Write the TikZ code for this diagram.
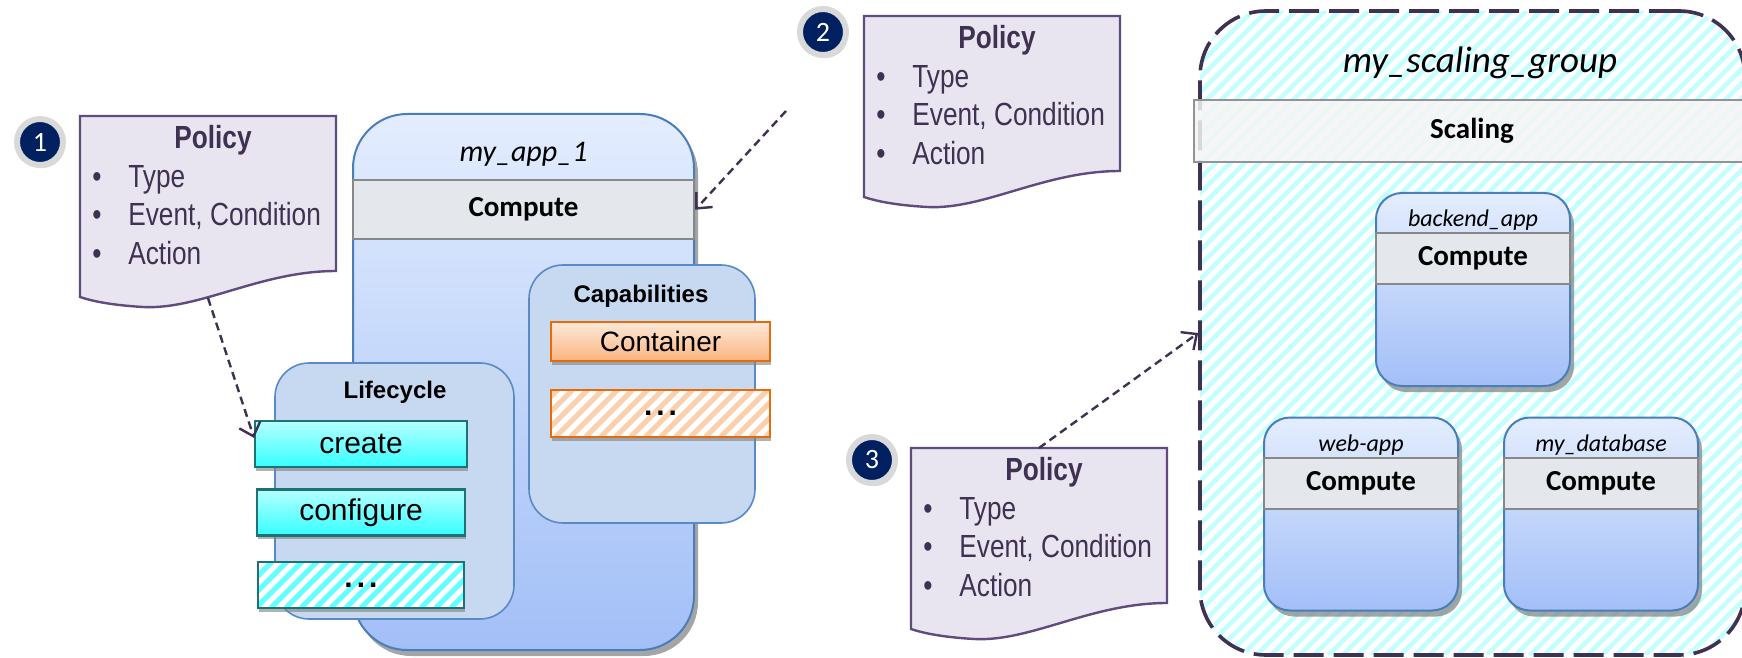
\documentclass[tikz,border=0pt]{standalone}
\usepackage{fontspec}
\setmainfont{Liberation Sans}
\newfontfamily\calibri{Carlito}
\newfontfamily\narrow[FakeStretch=0.82]{Liberation Sans}
\usepackage{tikz}
\usetikzlibrary{positioning,shadows,arrows.meta}

\definecolor{polfill}{HTML}{E9E5F0}
\definecolor{poldraw}{HTML}{5F4B7D}
\definecolor{poltext}{HTML}{3F3151}
\definecolor{navy}{HTML}{002060}
\definecolor{apptop}{HTML}{E3EDFE}
\definecolor{appbot}{HTML}{A2BFF7}
\definecolor{appdraw}{HTML}{4A7EBB}
\definecolor{bandfill}{HTML}{E4E8EC}
\definecolor{banddraw}{HTML}{888888}
\definecolor{subfill}{HTML}{C6D9F1}
\definecolor{subdraw}{HTML}{5A8AC6}
\definecolor{cyantop}{HTML}{B6FFFF}
\definecolor{cyanbot}{HTML}{36FFFF}
\definecolor{cyandraw}{HTML}{1D7373}
\definecolor{cyanstripe}{HTML}{66FFFF}
\definecolor{ortop}{HTML}{FDE9D9}
\definecolor{orbot}{HTML}{FAB47F}
\definecolor{ordraw}{HTML}{E46C0A}
\definecolor{orstripe}{HTML}{FBD0AE}
\definecolor{grpstripe}{HTML}{C4FEFE}
\definecolor{grpdraw}{HTML}{3F3151}

\newcommand{\pitem}{\makebox[18pt][l]{\textbullet}}
\newcommand{\policydoc}[3]{%
  \begin{scope}[shift={(#2,#3)}]
    \draw[policy] (0,0) -- (256,0) -- (256,155)
      .. controls (180,155) and (120,194) .. (63,191)
      .. controls (30,189) and (12,185) .. (0,181) -- cycle;
    \node[poltitle] (#1t) at (133,24) {Policy};
    \node[pollist] (#1l) at (12,99) {\pitem Type\\ \pitem Event, Condition\\ \pitem Action};
    \coordinate (#1top) at (128,0);
    \coordinate (#1bot) at (128,182);
  \end{scope}}

\begin{document}
\begin{tikzpicture}[x=0.5pt, y=-0.5pt, node distance=10pt,
hatch/.style n args={3}{path picture={
  \foreach \k in {-90,...,40}
    \draw[#1, solid, line width=#3] ([xshift=\k*#2]path picture bounding box.south) -- ++(450pt,450pt);}},
policy/.style={draw=poldraw, fill=polfill, line width=1.2pt},
poltitle/.style={font=\narrow\bfseries\fontsize{16}{19}\selectfont, text=poltext},
pollist/.style={anchor=west, align=left, inner sep=0pt, text=poltext,
  font=\narrow\fontsize{16}{19.25}\selectfont},
badge/.style={circle, fill=navy, draw=gray!30, line width=3pt, minimum size=23pt,
  inner sep=0pt, text=white, font=\calibri\fontsize{14}{14}\selectfont,
  drop shadow={shadow xshift=1pt, shadow yshift=-1.5pt, opacity=.35}},
app/.style={rectangle, rounded corners=27pt, draw=appdraw, line width=1pt,
  top color=apptop, bottom color=appbot,
  drop shadow={shadow xshift=2pt, shadow yshift=-3pt, fill=gray, opacity=.7}},
sapp/.style={app, rounded corners=13pt, minimum width=97pt, minimum height=96.5pt},
band/.style={draw=banddraw, fill=bandfill, line width=1.2pt, inner sep=0pt,
  font=\calibri\bfseries\fontsize{14.5}{17}\selectfont},
sband/.style={band, minimum width=97pt, minimum height=25.5pt},
applbl/.style={anchor=base, font=\calibri\itshape\fontsize{15}{18}\selectfont},
slbl/.style={anchor=base, font=\calibri\itshape\fontsize{12}{14}\selectfont},
sub/.style={rounded corners=17pt, draw=subdraw, fill=subfill, line width=.8pt},
sublbl/.style={anchor=base, font=\bfseries\fontsize{12}{14}\selectfont},
cyanbox/.style={draw=cyandraw, line width=1.2pt, top color=cyantop, bottom color=cyanbot,
  minimum height=23pt, font=\fontsize{15}{18}\selectfont,
  drop shadow={shadow xshift=.5pt, shadow yshift=-2pt, fill=gray, opacity=.6}},
cyandots/.style={draw=cyandraw, line width=1.2pt, fill=white, hatch={cyanstripe}{7.5pt}{2.6pt},
  minimum height=23pt, font=\bfseries\fontsize{15}{18}\selectfont,
  drop shadow={shadow xshift=.5pt, shadow yshift=-2pt, fill=gray, opacity=.6}},
orbox/.style={draw=ordraw, line width=1.2pt, top color=ortop, bottom color=orbot,
  minimum width=109.5pt, minimum height=19.5pt, font=\fontsize{14}{17}\selectfont,
  drop shadow={shadow xshift=.5pt, shadow yshift=-2pt, fill=gray, opacity=.6}},
ordots/.style={draw=ordraw, line width=1.2pt, fill=white, hatch={orstripe}{7.5pt}{2.6pt},
  minimum width=109.5pt, minimum height=23.5pt, font=\bfseries\fontsize{15}{18}\selectfont,
  drop shadow={shadow xshift=.5pt, shadow yshift=-2pt, fill=gray, opacity=.6}},
grp/.style={rounded corners=33pt, draw=grpdraw, line width=1.8pt,
  dash pattern=on 15pt off 5pt, fill=white, hatch={grpstripe}{7.2pt}{2.3pt}},
grplbl/.style={anchor=base, font=\calibri\itshape\fontsize{18.5}{22}\selectfont},
scaleband/.style={draw=gray!85, fill=gray!8, fill opacity=.85, text opacity=1,
  line width=1.2pt, font=\calibri\bfseries\fontsize{14.5}{17}\selectfont},
polarrow/.style={draw=grpdraw, line width=1.2pt, dash pattern=on 4pt off 2.5pt,
  -{Straight Barb[length=6pt,width=11pt]}}
]
\path[use as bounding box, fill=white] (0,0) rectangle (1742,658);

% scaling group
\node[grp, minimum width=272.5pt, minimum height=322pt] (grp) at (1472.5,333) {};
\node[grplbl] (grpname) at (1480,73) {my\_scaling\_group};
\node[scaleband, minimum width=278pt, minimum height=31pt] (scal) at (1472,131) {Scaling};
\node[sapp] (bk) at (1473,289.5) {};
\node[sband, below=20pt of bk.north] (bkc) {Compute};
\node[slbl] (bkn) at (1473,227) {backend\_app};
\node[sapp] (web) at (1361,514) {};
\node[sband, below=20pt of web.north] (webc) {Compute};
\node[slbl] (webn) at (1361,451) {web-app};
\node[sapp] (db) at (1601,514) {};
\node[sband, below=20pt of db.north] (dbc) {Compute};
\node[slbl] (dbn) at (1601,451) {my\_database};

% my_app_1
\node[app, minimum width=170.5pt, minimum height=268pt] (app) at (523.5,382) {};
\node[band, minimum width=170.5pt, minimum height=29.5pt, below=33pt of app.north] (appc) {Compute};
\node[applbl] (appn) at (523.5,162) {my\_app\_1};

\node[sub, minimum width=113pt, minimum height=129pt] (caps) at (642,394) {};
\node[sublbl] (capsn) at (641,302) {Capabilities};
\node[orbox] (cont) at (660.5,341.5) {Container};
\node[ordots] (capdots) at (660.5,413.5) {.\kern2pt.\kern2pt.};

\node[sub, minimum width=119.5pt, minimum height=128pt] (life) at (394.5,491) {};
\node[sublbl] (lifen) at (395,398) {Lifecycle};
\node[cyanbox, minimum width=105.75pt] (create) at (361,444) {create};
\node[cyanbox, minimum width=104pt, below=10pt of create] (conf) {configure};
\node[cyandots, minimum width=103pt, below=12pt of conf] (lifedots) {.\kern2pt.\kern2pt.};

% policies
\policydoc{pol1}{80}{116}
\policydoc{pol2}{864}{16}
\policydoc{pol3}{911}{448}

\node[badge] (n1) at (40,142) {1};
\node[badge] (n2) at (823,32) {2};
\node[badge] (n3) at (872,460) {3};

\coordinate (free2) at (786,111);
\draw[polarrow] (pol1bot) -- ([yshift=3pt]create.west);
\draw[polarrow] (free2) -- (appc.east);
\draw[polarrow] (pol3top) -- (grp.west);
\end{tikzpicture}
\end{document}
